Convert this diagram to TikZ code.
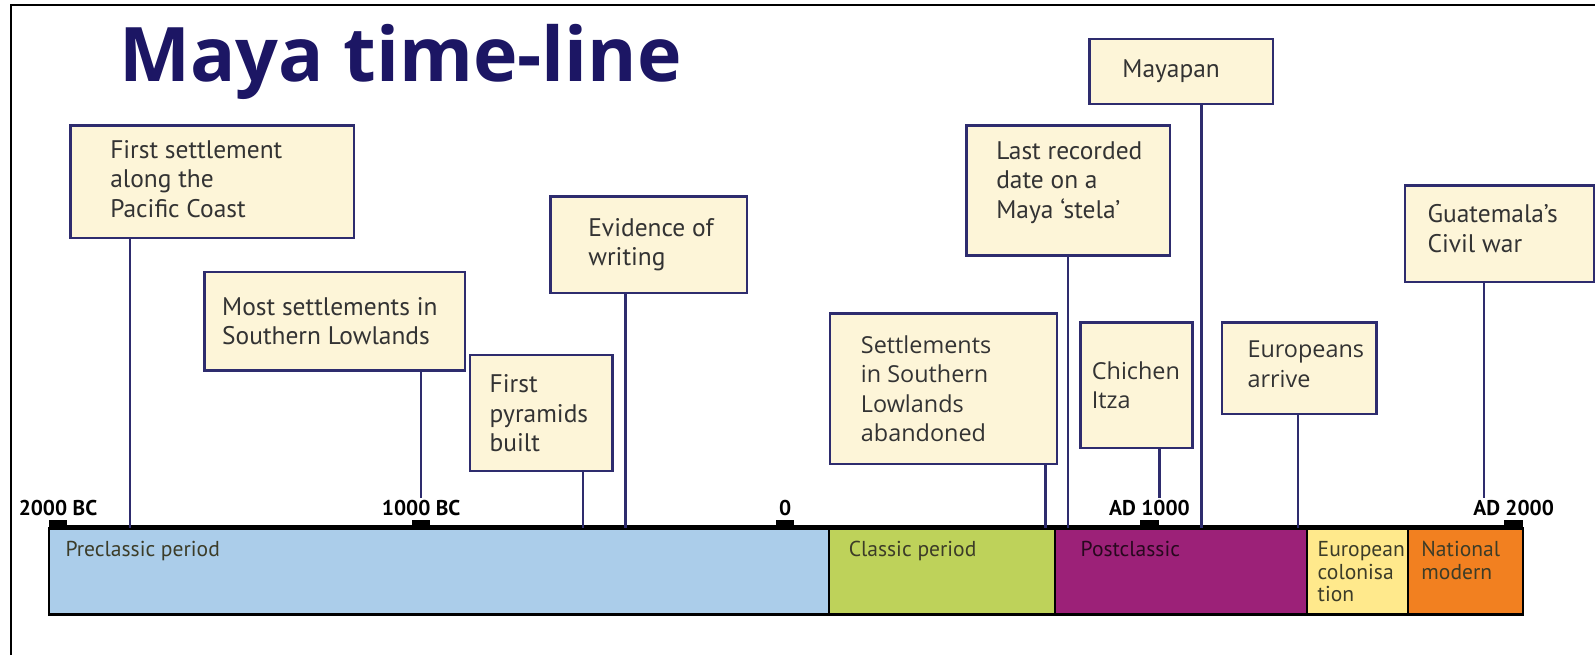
\documentclass[tikz,border=0pt]{standalone}
\usepackage{fontspec}
\setmainfont{PT Sans}
\newfontfamily\widefont{Open Sans}
\usetikzlibrary{positioning}

\definecolor{navyline}{RGB}{46,44,110}
\definecolor{cream}{RGB}{253,245,216}
\definecolor{titlenavy}{RGB}{28,22,100}
\definecolor{preclassic}{RGB}{171,205,234}
\definecolor{classic}{RGB}{190,210,90}
\definecolor{postclassic}{RGB}{156,33,120}
\definecolor{colonial}{RGB}{255,233,140}
\definecolor{modern}{RGB}{242,128,32}
\definecolor{bartext}{RGB}{60,60,40}

\tikzset{evbox/.style = {shape = rectangle,
                         draw = navyline,
                         fill = cream,
                         line width = 1.2pt,
                         inner sep = 0pt,
                         anchor = north west},
         evtext/.style = {anchor = west,
                          align = left,
                          inner sep = 0pt,
                          text = black!80,
                          font = \fontsize{12.5}{14.5}\selectfont},
         stem/.style = {draw = navyline,
                        line width = 1.2pt},
         period/.style = {draw = black,
                          line width = 1.2pt},
         pertext/.style = {anchor = north west,
                           align = left,
                           inner sep = 0pt,
                           text = bartext,
                           font = \fontsize{10.6}{11}\selectfont},
         ticklabel/.style = {anchor = base,
                             inner sep = 0pt,
                             font = \bfseries\fontsize{10.5}{12}\selectfont},
         tickmark/.style = {fill = black}}

\begin{document}
\begin{tikzpicture}[x=0.5pt, y=-0.5pt]
		\useasboundingbox (0,0) rectangle (1568,644);
		\fill[white] (0,0) rectangle (1568,644);
		\draw[line width=1pt] (11,644) -- (11,5) -- (1568,5);

		\node[anchor=base west, inner sep=0pt, text=titlenavy,
		      font=\widefont\bfseries\fontsize{37}{44}\selectfont] (title) at (117,80) {Maya time-line};

		% periods
		\draw[period, fill=preclassic] (48,519) rectangle (815,604);
		\draw[period, fill=classic] (815,519) rectangle (1037,604);
		\draw[period, fill=postclassic] (1037,519) rectangle (1285,604);
		\draw[period, fill=colonial] (1285,519) rectangle (1384,604);
		\draw[period, fill=modern] (1384,519) rectangle (1497,604);
		\node[pertext] (pre) at (64,532) {Preclassic period};
		\node[pertext] (cla) at (834,532) {Classic period};
		\node[pertext, text=black!75!postclassic] (pos) at (1062,532) {Postclassic};
		\node[pertext] (col) at (1295,532) {European\\colonisa\\tion};
		\node[pertext] (mod) at (1397,532) {National\\modern};

		% axis
		\coordinate (axl) at (48,519);
		\coordinate (axr) at (1497,519);
		\draw[line width=2.5pt] (axl) -- (axr);
		\foreach \x/\lab in {57/2000 BC, 414/1000 BC, 772/0, 1130/AD 1000, 1488/AD 2000}{
			\fill[tickmark] (\x-9,511) rectangle (\x+9,519);
			\node[ticklabel] at (\x,507) {\lab};
		}

		% events
		\node[evbox, minimum width=139.5pt, minimum height=55.5pt] (fs) at (68,122) {};
		\node[evtext] at ([xshift=20pt, yshift=1.5pt]fs.west) {First settlement\\along the\\Pacific Coast};
		\node[evbox, minimum width=128pt, minimum height=48.5pt] (ms) at (200,266) {};
		\node[evtext] at ([xshift=9pt]ms.west) {Most settlements in\\Southern Lowlands};
		\node[evbox, minimum width=70pt, minimum height=57pt] (fp) at (461,348) {};
		\node[evtext] at ([xshift=10pt]fp.west) {First\\pyramids\\built};
		\node[evbox, minimum width=96.5pt, minimum height=47.5pt] (ew) at (540,192) {};
		\node[evtext] at ([xshift=19pt]ew.west) {Evidence of\\writing};
		\node[evbox, minimum width=111.5pt, minimum height=74pt] (sa) at (815,307) {};
		\node[evtext, font=\widefont\fontsize{11.5}{14.5}\selectfont] at ([xshift=15.5pt]sa.west) {Settlements\\in Southern\\Lowlands\\abandoned};
		\node[evbox, minimum width=100pt, minimum height=64pt] (lr) at (949,122) {};
		\node[evtext] at ([xshift=15pt, yshift=4pt]lr.west) {Last recorded\\date on a\\Maya ‘stela’};
		\node[evbox, minimum width=90pt, minimum height=32pt] (mp) at (1070,37) {};
		\node[evtext] at ([xshift=16.5pt]mp.west) {Mayapan};
		\node[evbox, minimum width=55pt, minimum height=61.5pt] (ci) at (1061,316) {};
		\node[evtext, font=\widefont\fontsize{11.5}{14.5}\selectfont] at ([xshift=6pt]ci.west) {Chichen\\Itza};
		\node[evbox, minimum width=76pt, minimum height=45pt] (ea) at (1200,316) {};
		\node[evtext, font=\widefont\fontsize{11.5}{14.5}\selectfont] at ([xshift=13pt, yshift=2pt]ea.west) {Europeans\\arrive};
		\node[evbox, minimum width=93pt, minimum height=47.5pt] (gw) at (1380,181) {};
		\node[evtext] at ([xshift=11.5pt, yshift=2.5pt]gw.west) {Guatemala’s\\Civil war};

		% stems
		\coordinate (tfs) at (128,519);
		\coordinate (tms) at (414,490);
		\coordinate (tfp) at (573,519);
		\coordinate (tew) at (615,519);
		\coordinate (tsa) at (1028,519);
		\coordinate (tlr) at (1050,519);
		\coordinate (tmp) at (1181,519);
		\coordinate (tci) at (1140,490);
		\coordinate (tea) at (1276,519);
		\coordinate (tgw) at (1459,490);
		\foreach \ev in {fs, ms, fp, ew, sa, lr, mp, ci, ea, gw}{
			\draw[stem] (t\ev |- \ev.south) -- (t\ev);
		}
	\end{tikzpicture}
\end{document}
